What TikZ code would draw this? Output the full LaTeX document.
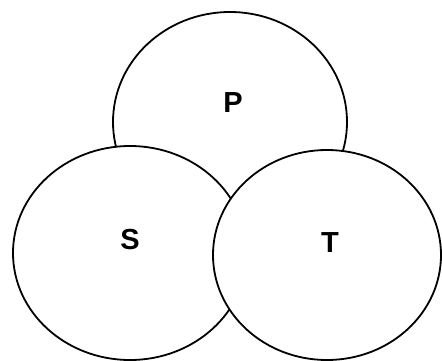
\documentclass[tikz,border=0pt]{standalone}
\usepackage{fontspec}
\setmainfont{Liberation Sans}
\usetikzlibrary{shapes.geometric}
\begin{document}
\begin{tikzpicture}[x=1pt, y=-1pt,
  setdisc/.style={ellipse, draw=black, fill=white, line width=1.8pt, inner sep=0pt},
  setlabel/.style={font=\fontsize{29}{29}\selectfont\bfseries, inner sep=0pt}]
  \useasboundingbox (0,0) rectangle (442,361);
  % drawn back to front: P, then S, then T on top
  \node[setdisc, minimum width=234pt, minimum height=220pt] (P) at (230,122) {};
  \node[setdisc, minimum width=234pt, minimum height=214pt] (S) at (130,253) {};
  \node[setdisc, minimum width=228pt, minimum height=210pt] (T) at (327,255) {};
  \node[setlabel] (Plabel) at (233,103) {P};
  \node[setlabel] (Slabel) at (130,240) {S};
  \node[setlabel] (Tlabel) at (330,243) {T};
\end{tikzpicture}
\end{document}
